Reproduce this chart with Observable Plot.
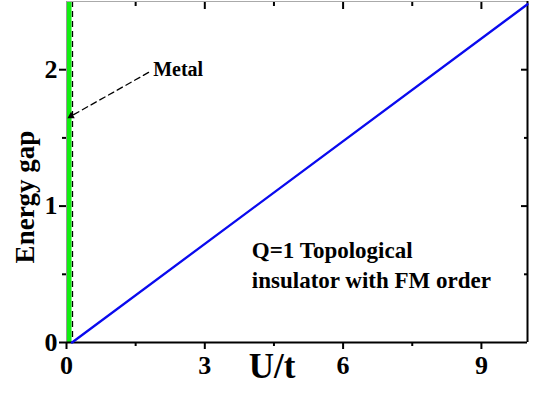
<!DOCTYPE html>
<html>
<head>
<meta charset="utf-8">
<script src="https://cdn.jsdelivr.net/npm/d3@7"></script>
<script src="https://cdn.jsdelivr.net/npm/@observablehq/plot@0.6"></script>
<style>
  html, body { margin: 0; padding: 0; background: #fff; }
  #chart svg text { font-family: "Liberation Serif", "DejaVu Serif", serif; font-weight: bold; }
</style>
</head>
<body>
<div id="chart"></div>
<script>
// ---- data ----
const gapU = [0.12, 10];          // U/t
const gapValue = [0, 2.48];       // energy gap (Q=1 topological insulator)
const metalRegion = [0, 0.12];    // U/t range of the metal band
const boundaryU = [0.13];         // dashed phase boundary
const xMajorTicks = [0, 3, 6, 9];
const xMinorTicks = [1.5, 4.5, 7.5];
const yMajorTicks = [0, 1, 2];
const yMinorTicks = [0.5, 1.5];
const metalLabel = ["Metal"];
const metalLabelPos = [1.88, 2.0];
const metalArrowFrom = [1.78, 1.98];
const metalArrowTo = [0.1, 1.66];
const phaseLines = ["Q=1 Topological", "insulator with FM order"];
const phaseLinesU = [4.02, 4.02];
const phaseLinesGap = [0.675, 0.455];

const xDomain = [0, 10];
const yDomain = [0, 2.5];

const curve = gapU.map((u, i) => ({u, g: gapValue[i]}));
const phaseText = phaseLines.map((t, i) => ({t, u: phaseLinesU[i], g: phaseLinesGap[i]}));

const chart = Plot.plot({
  width: 538,
  height: 398,
  marginLeft: 66,
  marginRight: 11,
  marginTop: 1,
  marginBottom: 56,
  style: {fontFamily: "Liberation Serif", fontWeight: "bold"},
  x: {domain: xDomain},
  y: {domain: yDomain},
  marks: [
    // metal band
    Plot.rect([metalRegion], {x1: d => d[0], x2: d => d[1], y1: yDomain[0], y2: yDomain[1], fill: "#11ee11"}),
    Plot.ruleX(boundaryU, {stroke: "#000", strokeWidth: 1.3, strokeDasharray: "6,4"}),
    // frame
    Plot.ruleY([yDomain[1]], {stroke: "#aaa", strokeWidth: 1}),
    Plot.ruleX([xDomain[0]], {stroke: "#999", strokeWidth: 1}),
    Plot.ruleY([yDomain[0]], {stroke: "#000", strokeWidth: 2}),
    Plot.ruleX([xDomain[1]], {stroke: "#000", strokeWidth: 2}),
    // gap line
    Plot.line(curve, {x: "u", y: "g", stroke: "#0a0aee", strokeWidth: 2.3}),
    // axes
    Plot.axisX({ticks: xMajorTicks, tickSize: 7, tickPadding: 6, fontSize: 26, strokeWidth: 2, label: null, tickFormat: d => d}),
    Plot.axisX({ticks: xMinorTicks, tickSize: 4, text: null, strokeWidth: 2, label: null}),
    Plot.axisX({anchor: "top", ticks: xMajorTicks.slice(1), tickSize: 7, dy: 7, text: null, strokeWidth: 2, label: null}),
    Plot.axisX({anchor: "top", ticks: xMinorTicks, tickSize: 4, dy: 4, text: null, strokeWidth: 2, label: null}),
    Plot.axisY({ticks: yMajorTicks, tickSize: 7, tickPadding: 2, fontSize: 26, strokeWidth: 2, label: null, tickFormat: d => d}),
    Plot.axisY({ticks: yMinorTicks, tickSize: 4, text: null, strokeWidth: 2, label: null}),
    Plot.axisY({anchor: "right", ticks: yMajorTicks.slice(1), tickSize: 7, dx: -7, text: null, strokeWidth: 2, label: null}),
    Plot.axisY({anchor: "right", ticks: yMinorTicks, tickSize: 4, dx: -4, text: null, strokeWidth: 2, label: null}),
    // axis titles
    Plot.text(["U/t"], {frameAnchor: "bottom", text: d => d, textAnchor: "middle", dx: -25, dy: 35, fontSize: 35, fill: "#000"}),
    Plot.text(["Energy gap"], {frameAnchor: "left", text: d => d, textAnchor: "middle", rotate: -90, dx: -41, dy: 25, fontSize: 27, fill: "#000"}),
    // annotations
    Plot.arrow([0], {x1: metalArrowFrom[0], y1: metalArrowFrom[1], x2: metalArrowTo[0], y2: metalArrowTo[1],
      stroke: "#000", strokeWidth: 1.3, strokeDasharray: "6,4", headLength: 0, bend: false}),
    Plot.dot([0], {x: metalArrowTo[0], y: metalArrowTo[1], symbol: "triangle2", r: 3.5, rotate: 240, fill: "#000", stroke: "none"}),
    Plot.text(metalLabel, {x: metalLabelPos[0], y: metalLabelPos[1], text: d => d, textAnchor: "start", fontSize: 20, fill: "#000"}),
    Plot.text(phaseText, {x: "u", y: "g", text: "t", textAnchor: "start", fontSize: 23, fill: "#000"})
  ]
});
document.getElementById("chart").appendChild(chart);
</script>
</body>
</html>
